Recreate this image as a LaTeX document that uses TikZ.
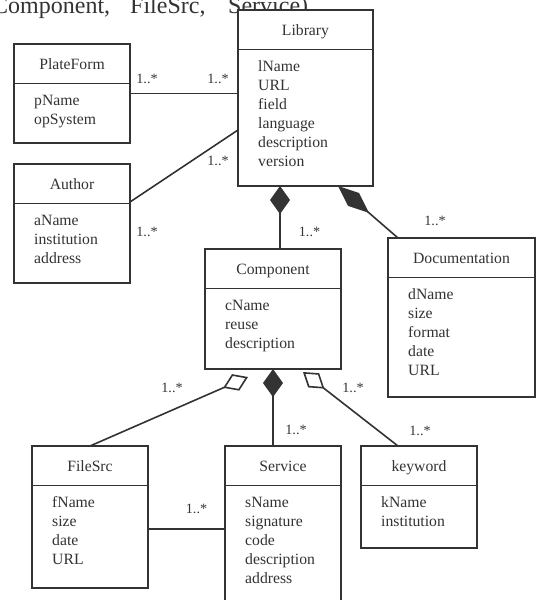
\documentclass[tikz,border=0pt]{standalone}
\usepackage{fontspec}
\setmainfont{Liberation Serif}
\usetikzlibrary{arrows.meta,positioning}
\definecolor{umlgray}{HTML}{333333}
\tikzset{
  classbox/.style={draw=umlgray, fill=white, line width=1.8pt, outer sep=0pt, inner sep=0pt},
  classline/.style={draw=umlgray, line width=1.8pt},
  classname/.style={text=umlgray, inner sep=0pt, font=\fontsize{15.7pt}{18.9pt}\selectfont},
  classattr/.style={text=umlgray, inner sep=0pt, font=\fontsize{15.7pt}{18.9pt}\selectfont},
  mult/.style={text=umlgray, inner sep=0pt, anchor=base, font=\fontsize{14.2pt}{17pt}\selectfont},
  conn/.style={draw=umlgray, line width=1.6pt},
  compose/.style={conn, {Diamond[length=28pt,width=20pt]}-},
  composelong/.style={conn, {Diamond[length=41pt,width=17pt]}-},
  aggr/.style={conn, -{Diamond[open,length=27pt,width=18pt]}},
}
% name, corner, width, height, title, attributes
\newcommand{\umlclass}[6]{%
  \node[classbox, minimum width=#3, minimum height=#4, anchor=north west] (#1) at #2 {};
  \draw[classline] ([yshift=-39.5pt]#1.north west) -- ([yshift=-39.5pt]#1.north east);
  \node[classname, anchor=base] (#1-name) at ([yshift=-25.5pt]#1.north) {#5};
  \foreach \attr [count=\k] in {#6}
    \node[classattr, anchor=base west] (#1-attr\k) at ([xshift=20pt,yshift={-61.5pt-(\k-1)*18.9pt}]#1.north west) {\attr};
}
\begin{document}
\begin{tikzpicture}[x=1pt,y=-1pt]
\useasboundingbox (0,0) rectangle (536,600);

% Caption left over above the diagram
\node[anchor=base west, inner sep=0pt, text=umlgray, font=\fontsize{24pt}{28pt}\selectfont] (caption) at (-8,13) {Component,\hspace{20pt}FileSrc,\hspace{22.7pt}Service)};

% Define the classes
\umlclass{Library}{(238,10)}{135pt}{176pt}{Library}{lName,URL,field,language,description,version}
\umlclass{PlateForm}{(14,44)}{116pt}{99pt}{PlateForm}{pName,opSystem}
\umlclass{Author}{(14,164)}{116pt}{119pt}{Author}{aName,institution,address}
\umlclass{Component}{(205,249)}{136pt}{120pt}{Component}{cName,reuse,description}
\umlclass{Documentation}{(388,238)}{147pt}{159pt}{Documentation}{dName,size,format,date,URL}
\umlclass{FileSrc}{(32,446)}{116pt}{142pt}{FileSrc}{fName,size,date,URL}
\umlclass{Service}{(225,446)}{116pt}{170pt}{Service}{sName,signature,code,description,address}
\umlclass{keyword}{(361,446)}{116pt}{102pt}{keyword}{kName,institution}

% Draw the associations
\draw[conn] (PlateForm.east) -- (PlateForm.east -| Library.west);
\draw[conn] ([yshift=-38pt]Author.north east) -- ([yshift=-120pt]Library.north west);
\coordinate (libC) at ([xshift=42pt]Library.south west);
\draw[compose] (libC) -- (libC |- Component.north);
\draw[composelong] ([xshift=-35pt]Library.south east) -- ([xshift=10pt]Documentation.north west);
\draw[aggr] (FileSrc.north) -- ([xshift=43pt,yshift=-8pt]Component.south west);
\draw[compose] (Component.south) -- (Component.south |- Service.north);
\draw[aggr] ([xshift=37pt]keyword.north west) -- ([xshift=-38pt,yshift=-3pt]Component.south east);
\coordinate (fsS) at ([yshift=-12pt]FileSrc.east);
\draw[conn] (fsS) -- (fsS -| Service.west);

% Multiplicities
\node[mult] (mPF) at (147,83) {1..*};
\node[mult] (mLP) at (218,83) {1..*};
\node[mult] (mLA) at (218,165) {1..*};
\node[mult] (mAL) at (147,236) {1..*};
\node[mult] (mLC) at (309.5,236) {1..*};
\node[mult] (mLD) at (435,225) {1..*};
\node[mult] (mCF) at (172,392) {1..*};
\node[mult] (mCK) at (353,392) {1..*};
\node[mult] (mCS) at (296,434) {1..*};
\node[mult] (mKC) at (420,435) {1..*};
\node[mult] (mFS) at (196.5,513) {1..*};
\end{tikzpicture}
\end{document}
